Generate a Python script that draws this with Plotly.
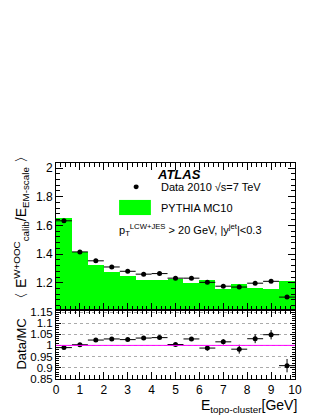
import plotly.graph_objects as go

# bins of 2/3 GeV between 0 and 10
bin_centers = [0.333, 1.0, 1.667, 2.333, 3.0, 3.667, 4.333, 5.0, 5.667, 6.333, 7.0, 7.667, 8.333, 9.0, 9.667]
bin_halfwidth = [0.333] * 15

data_resp = [1.632, 1.415, 1.353, 1.31, 1.28, 1.26, 1.264, 1.232, 1.232, 1.203, 1.176, 1.17, 1.197, 1.21, 1.10]
data_err = [0.004, 0.003, 0.003, 0.003, 0.003, 0.003, 0.003, 0.003, 0.004, 0.005, 0.006, 0.008, 0.009, 0.01, 0.012]
mc_resp = [1.649, 1.412, 1.321, 1.275, 1.249, 1.221, 1.221, 1.228, 1.198, 1.217, 1.158, 1.191, 1.163, 1.156, 1.21]

ratio = [0.990, 1.003, 1.024, 1.029, 1.026, 1.033, 1.035, 1.004, 1.029, 0.988, 1.016, 0.983, 1.030, 1.048, 0.909]
ratio_err = [0.004, 0.004, 0.004, 0.004, 0.004, 0.005, 0.005, 0.005, 0.008, 0.012, 0.012, 0.02, 0.02, 0.021, 0.03]

top_ticks = [1.2, 1.4, 1.6, 1.8, 2.0]
bot_ticks = [0.85, 0.9, 0.95, 1.0, 1.05, 1.1, 1.15]

FONT = "Liberation Sans, Arial, Helvetica, sans-serif"

fig = go.Figure()

fig.add_trace(go.Bar(x=bin_centers, y=mc_resp, width=0.667, marker=dict(color="#00ff00", line=dict(width=0)),
                     xaxis="x", yaxis="y", showlegend=False))
fig.add_trace(go.Scatter(x=bin_centers, y=data_resp, mode="markers",
                         marker=dict(color="black", size=5),
                         error_x=dict(type="data", array=bin_halfwidth, color="black", thickness=1, width=0),
                         error_y=dict(type="data", array=data_err, color="black", thickness=1, width=0),
                         xaxis="x", yaxis="y", showlegend=False))
fig.add_trace(go.Scatter(x=bin_centers, y=ratio, mode="markers",
                         marker=dict(color="black", size=5),
                         error_x=dict(type="data", array=bin_halfwidth, color="black", thickness=1, width=0),
                         error_y=dict(type="data", array=ratio_err, color="black", thickness=1, width=0),
                         xaxis="x2", yaxis="y2", showlegend=False))

split = 0.3194
axis_common = dict(showline=True, linecolor="black", linewidth=1, mirror="ticks", ticks="inside",
                   tickcolor="black", zeroline=False, showgrid=False,
                   tickfont=dict(family=FONT, size=12, color="black"))

fig.update_layout(
    width=324, height=419,
    margin=dict(l=48, r=37, t=155, b=48),
    paper_bgcolor="white", plot_bgcolor="white",
    bargap=0,
    font=dict(family=FONT, color="black"),
    xaxis=dict(axis_common, domain=[0, 1], range=[0, 10], anchor="y", dtick=1, tick0=0, ticklen=7,
               showticklabels=False, minor=dict(dtick=0.2, ticklen=4, ticks="inside", tickcolor="black")),
    yaxis=dict(axis_common, domain=[split, 1], range=[1.01, 2.035], anchor="x", tickvals=top_ticks,
               ticktext=["1.2", "1.4", "1.6", "1.8", "2"], ticklen=7,
               minor=dict(dtick=0.04, tick0=1.0, ticklen=4, ticks="inside", tickcolor="black")),
    xaxis2=dict(axis_common, domain=[0, 1], range=[0, 10], anchor="y2", dtick=1, tick0=0, ticklen=7,
                minor=dict(dtick=0.2, ticklen=4, ticks="inside", tickcolor="black")),
    yaxis2=dict(axis_common, domain=[0, split], range=[0.849, 1.159], anchor="x2", tickvals=bot_ticks,
                ticktext=["0.85", "0.9", "0.95", "1", "1.05", "1.1", "1.15"], ticklen=5,
                tickfont=dict(family=FONT, size=11.5, color="black"),
                showgrid=True, gridcolor="#aaaaaa", griddash="dot", gridwidth=1,
                minor=dict(dtick=0.01, tick0=0.85, ticklen=3, ticks="inside", tickcolor="black")),
)

# unity line in ratio panel
fig.add_shape(type="line", xref="x2 domain", x0=0, x1=1, yref="y2", y0=1, y1=1,
              line=dict(color="#ff00ff", width=1))

# legend box for MC
fig.add_shape(type="rect", xref="paper", yref="paper", x0=0.264, x1=0.397, y0=0.759, y1=0.829,
              fillcolor="#00ff00", line=dict(width=0))
fig.add_shape(type="circle", xref="paper", yref="paper", x0=0.325, x1=0.346, y0=0.878, y1=0.901,
              fillcolor="black", line=dict(width=0))

ann = [
    dict(text="<b><i>ATLAS</i></b>", x=0.414, y=0.949, size=13),
    dict(text="Data 2010 √s=7 TeV", x=0.430, y=0.889, size=11),
    dict(text="PYTHIA MC10", x=0.430, y=0.792, size=11),
    dict(text="p<sub>T</sub><sup>LCW+JES</sup> &gt; 20 GeV, |y<sup>jet</sup>|&lt;0.3", x=0.255, y=0.690, size=11),
]
for a in ann:
    fig.add_annotation(text=a["text"], x=a["x"], y=a["y"], xref="paper", yref="paper",
                       xanchor="left", yanchor="middle", showarrow=False,
                       font=dict(family=FONT, size=a["size"], color="black"))

# axis titles
fig.add_annotation(text="〈 E<sup>W+OOC</sup><sub>calib</sub>/E<sub>EM-scale</sub> 〉",
                   x=-0.146, y=0.70, xref="paper", yref="paper", textangle=-90,
                   xanchor="center", yanchor="middle", showarrow=False,
                   font=dict(family=FONT, size=14, color="black"))
fig.add_annotation(text="Data/MC", x=-0.146, y=0.16, xref="paper", yref="paper", textangle=-90,
                   xanchor="center", yanchor="middle", showarrow=False,
                   font=dict(family=FONT, size=13, color="black"))
fig.add_annotation(text="E<sub>topo-cluster</sub>[GeV]", x=1.017, y=-0.075, xref="paper", yref="paper",
                   xanchor="right", yanchor="top", showarrow=False,
                   font=dict(family=FONT, size=14, color="black"))

fig.write_html("out.html")
